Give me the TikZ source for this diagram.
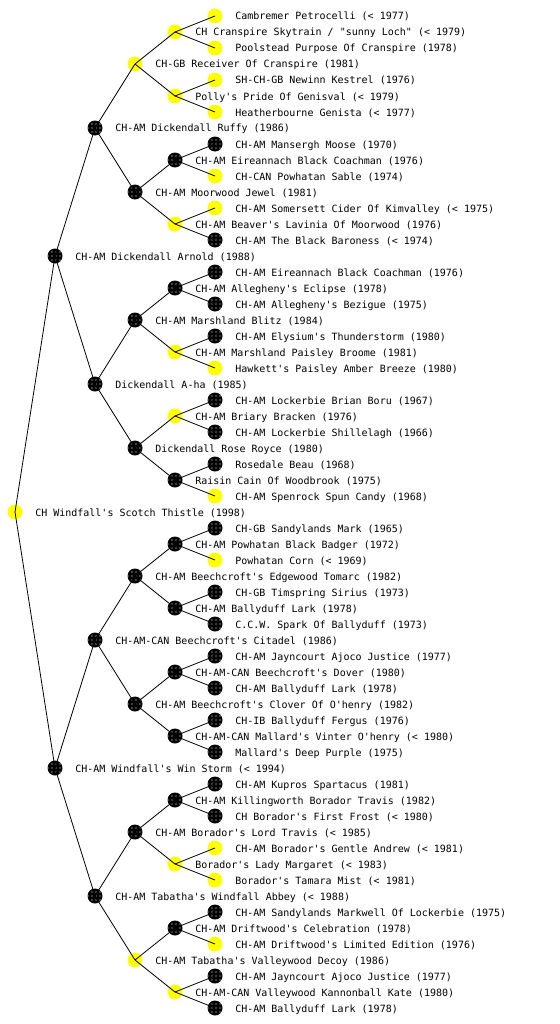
\documentclass[tikz,border=0pt]{standalone}
\usepackage{fontspec}
\usetikzlibrary{patterns}
\newfontfamily\pedfont{DejaVu Sans Mono}
\definecolor{pyel}{RGB}{255,255,0}
\tikzset{
  dog/.style={circle, minimum size=11.25pt, inner sep=0pt, draw=none},
  yel/.style={dog, fill=pyel},
  blk/.style={dog, fill=black, postaction={pattern=dots, pattern color=white}},
  lbl/.style={anchor=base west, inner sep=0pt, font=\pedfont\fontsize{7.5pt}{9pt}\selectfont},
  link/.style={line width=0.6pt, black}
}
% #1 row, #2 depth, #3 style, #4 label
\newcommand\pedrow[4]{%
  \node[#3] (n#1) at ({15+40*#2},{16*#1}) {};
  \node[lbl] (t#1) at ({35+40*#2},{16*#1+4}) {#4};
}
\begin{document}
\begin{tikzpicture}[x=0.75pt,y=-0.75pt]
\useasboundingbox[fill=white] (0,0) rectangle (560,1024);
\pedrow{1}{5}{yel}{Cambremer Petrocelli (< 1977)}
\pedrow{2}{4}{yel}{CH Cranspire Skytrain / "sunny Loch" (< 1979)}
\pedrow{3}{5}{yel}{Poolstead Purpose Of Cranspire (1978)}
\pedrow{4}{3}{yel}{CH-GB Receiver Of Cranspire (1981)}
\pedrow{5}{5}{yel}{SH-CH-GB Newinn Kestrel (1976)}
\pedrow{6}{4}{yel}{Polly's Pride Of Genisval (< 1979)}
\pedrow{7}{5}{yel}{Heatherbourne Genista (< 1977)}
\pedrow{8}{2}{blk}{CH-AM Dickendall Ruffy (1986)}
\pedrow{9}{5}{blk}{CH-AM Mansergh Moose (1970)}
\pedrow{10}{4}{blk}{CH-AM Eireannach Black Coachman (1976)}
\pedrow{11}{5}{yel}{CH-CAN Powhatan Sable (1974)}
\pedrow{12}{3}{blk}{CH-AM Moorwood Jewel (1981)}
\pedrow{13}{5}{yel}{CH-AM Somersett Cider Of Kimvalley (< 1975)}
\pedrow{14}{4}{yel}{CH-AM Beaver's Lavinia Of Moorwood (1976)}
\pedrow{15}{5}{blk}{CH-AM The Black Baroness (< 1974)}
\pedrow{16}{1}{blk}{CH-AM Dickendall Arnold (1988)}
\pedrow{17}{5}{blk}{CH-AM Eireannach Black Coachman (1976)}
\pedrow{18}{4}{blk}{CH-AM Allegheny's Eclipse (1978)}
\pedrow{19}{5}{blk}{CH-AM Allegheny's Bezigue (1975)}
\pedrow{20}{3}{blk}{CH-AM Marshland Blitz (1984)}
\pedrow{21}{5}{blk}{CH-AM Elysium's Thunderstorm (1980)}
\pedrow{22}{4}{yel}{CH-AM Marshland Paisley Broome (1981)}
\pedrow{23}{5}{yel}{Hawkett's Paisley Amber Breeze (1980)}
\pedrow{24}{2}{blk}{Dickendall A-ha (1985)}
\pedrow{25}{5}{blk}{CH-AM Lockerbie Brian Boru (1967)}
\pedrow{26}{4}{yel}{CH-AM Briary Bracken (1976)}
\pedrow{27}{5}{blk}{CH-AM Lockerbie Shillelagh (1966)}
\pedrow{28}{3}{blk}{Dickendall Rose Royce (1980)}
\pedrow{29}{5}{blk}{Rosedale Beau (1968)}
\pedrow{30}{4}{blk}{Raisin Cain Of Woodbrook (1975)}
\pedrow{31}{5}{yel}{CH-AM Spenrock Spun Candy (1968)}
\pedrow{32}{0}{yel}{CH Windfall's Scotch Thistle (1998)}
\pedrow{33}{5}{blk}{CH-GB Sandylands Mark (1965)}
\pedrow{34}{4}{blk}{CH-AM Powhatan Black Badger (1972)}
\pedrow{35}{5}{yel}{Powhatan Corn (< 1969)}
\pedrow{36}{3}{blk}{CH-AM Beechcroft's Edgewood Tomarc (1982)}
\pedrow{37}{5}{blk}{CH-GB Timspring Sirius (1973)}
\pedrow{38}{4}{blk}{CH-AM Ballyduff Lark (1978)}
\pedrow{39}{5}{blk}{C.C.W. Spark Of Ballyduff (1973)}
\pedrow{40}{2}{blk}{CH-AM-CAN Beechcroft's Citadel (1986)}
\pedrow{41}{5}{blk}{CH-AM Jayncourt Ajoco Justice (1977)}
\pedrow{42}{4}{blk}{CH-AM-CAN Beechcroft's Dover (1980)}
\pedrow{43}{5}{blk}{CH-AM Ballyduff Lark (1978)}
\pedrow{44}{3}{blk}{CH-AM Beechcroft's Clover Of O'henry (1982)}
\pedrow{45}{5}{blk}{CH-IB Ballyduff Fergus (1976)}
\pedrow{46}{4}{blk}{CH-AM-CAN Mallard's Vinter O'henry (< 1980)}
\pedrow{47}{5}{blk}{Mallard's Deep Purple (1975)}
\pedrow{48}{1}{blk}{CH-AM Windfall's Win Storm (< 1994)}
\pedrow{49}{5}{blk}{CH-AM Kupros Spartacus (1981)}
\pedrow{50}{4}{blk}{CH-AM Killingworth Borador Travis (1982)}
\pedrow{51}{5}{blk}{CH Borador's First Frost (< 1980)}
\pedrow{52}{3}{blk}{CH-AM Borador's Lord Travis (< 1985)}
\pedrow{53}{5}{yel}{CH-AM Borador's Gentle Andrew (< 1981)}
\pedrow{54}{4}{yel}{Borador's Lady Margaret (< 1983)}
\pedrow{55}{5}{yel}{Borador's Tamara Mist (< 1981)}
\pedrow{56}{2}{blk}{CH-AM Tabatha's Windfall Abbey (< 1988)}
\pedrow{57}{5}{blk}{CH-AM Sandylands Markwell Of Lockerbie (1975)}
\pedrow{58}{4}{blk}{CH-AM Driftwood's Celebration (1978)}
\pedrow{59}{5}{yel}{CH-AM Driftwood's Limited Edition (1976)}
\pedrow{60}{3}{yel}{CH-AM Tabatha's Valleywood Decoy (1986)}
\pedrow{61}{5}{blk}{CH-AM Jayncourt Ajoco Justice (1977)}
\pedrow{62}{4}{yel}{CH-AM-CAN Valleywood Kannonball Kate (1980)}
\pedrow{63}{5}{blk}{CH-AM Ballyduff Lark (1978)}
\foreach \p/\o in {32/16, 16/8, 48/8, 8/4, 24/4, 40/4, 56/4,
  4/2, 12/2, 20/2, 28/2, 36/2, 44/2, 52/2, 60/2,
  2/1, 6/1, 10/1, 14/1, 18/1, 22/1, 26/1, 30/1,
  34/1, 38/1, 42/1, 46/1, 50/1, 54/1, 58/1, 62/1} {
  \pgfmathtruncatemacro\ca{\p-\o}
  \pgfmathtruncatemacro\cb{\p+\o}
  \draw[link] (n\p.center) -- (n\ca.center);
  \draw[link] (n\p.center) -- (n\cb.center);
}
\end{tikzpicture}
\end{document}
